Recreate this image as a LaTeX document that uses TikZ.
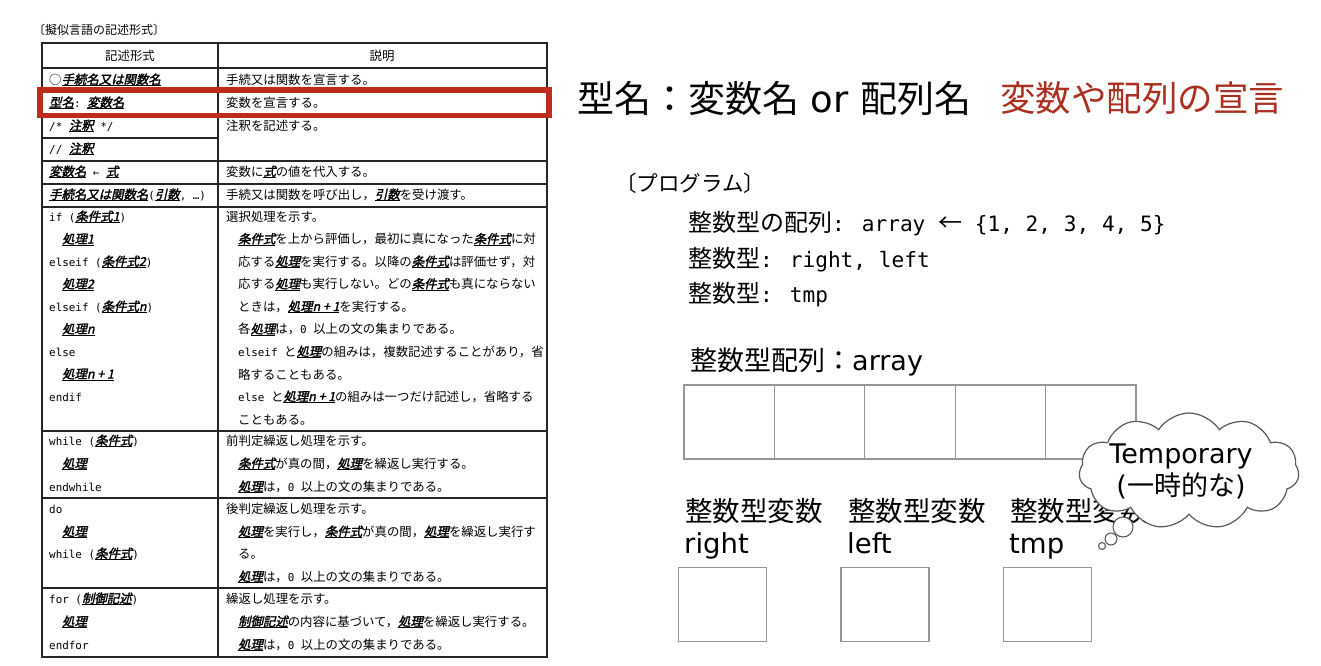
\documentclass[tikz,border=0pt]{standalone}
\usepackage{fontspec}
\setmainfont{Noto Sans CJK JP}
\newfontfamily\kfont{Noto Sans CJK JP}[FakeSlant=0.22,FakeBold=2]
\newfontfamily\mono{DejaVu Sans Mono}[Scale=0.88]
\newfontfamily\lat{DejaVu Sans}
\usetikzlibrary{shapes.symbols}

\definecolor{hlred}{RGB}{190,45,28}
\definecolor{subred}{RGB}{172,48,32}
\definecolor{boxgray}{RGB}{150,150,150}
\definecolor{cloudgray}{RGB}{90,90,90}

% keyword: slanted bold with a heavy underline
\newsavebox\kwbox
\newcommand\kw[1]{\sbox\kwbox{\kfont #1}\rlap{\raisebox{-2.4pt}{\rule{\wd\kwbox}{1.1pt}}}\usebox\kwbox}
\newcommand\cd[1]{{\mono #1}}

\begin{document}
\begin{tikzpicture}[x=1pt,y=-1pt,
  tx/.style={anchor=west,inner sep=0pt,font=\fontsize{12.4}{14}\selectfont},
  tline/.style={line width=1.2pt,black!85},
  prog/.style={anchor=west,inner sep=0pt,font=\fontsize{24}{28}\selectfont},
  big/.style={anchor=west,inner sep=0pt,font=\fontsize{27.5}{32}\selectfont},
  cell/.style={draw=boxgray,line width=1.3pt,inner sep=0pt,outer sep=0pt},
  bubble/.style={circle,draw=cloudgray,fill=white,line width=1.1pt,inner sep=0pt}]

\fill[white] (0,0) rectangle (1321,665);
\useasboundingbox (0,0) rectangle (1321,665);

% ---------- pseudo-language table ----------
\node[tx,font=\fontsize{12}{14}\selectfont] (tabtitle) at (33,30) {〔擬似言語の記述形式〕};

\draw[tline] (42,43) rectangle (547,657);
\draw[tline] (218,43) -- (218,657);
\foreach \yy in {68,92,115,161,184,207,431,498,588}
  \draw[tline] (42,\yy) -- (547,\yy);
\draw[tline] (42,138) -- (218,138);

\node[tx,anchor=center] (hL) at (130,56) {記述形式};
\node[tx,anchor=center] (hR) at (382,56) {説明};

\node[tx] (r1L) at (49,80) {○\kw{手続名又は関数名}};
\node[tx] (r1R) at (226,80) {手続又は関数を宣言する。};
\node[tx] (r2L) at (49,103) {\kw{型名}\cd{:\ }\kw{変数名}};
\node[tx] (r2R) at (226,103) {変数を宣言する。};
\node[tx] (r3L) at (49,126) {\cd{/*\ }\kw{注釈}\cd{\ */}};
\node[tx] (r3R) at (226,126) {注釈を記述する。};
\node[tx] (r4L) at (49,149) {\cd{//\ }\kw{注釈}};
\node[tx] (r5L) at (49,172) {\kw{変数名}\cd{\ ←\ }\kw{式}};
\node[tx] (r5R) at (226,172) {変数に\kw{式}の値を代入する。};
\node[tx] (r6L) at (49,195) {\kw{手続名又は関数名}\cd{(}\kw{引数}\cd{,\ …)}};
\node[tx] (r6R) at (226,195) {手続又は関数を呼び出し，\kw{引数}を受け渡す。};

% if block
\node[tx] (if0) at (49,217) {\cd{if (}\kw{条件式1}\cd{)}};
\node[tx] (if1) at (62,239.5) {\kw{処理1}};
\node[tx] (if2) at (49,262) {\cd{elseif (}\kw{条件式2}\cd{)}};
\node[tx] (if3) at (62,284.5) {\kw{処理2}};
\node[tx] (if4) at (49,307) {\cd{elseif (}\kw{条件式n}\cd{)}};
\node[tx] (if5) at (62,329.5) {\kw{処理n}};
\node[tx] (if6) at (49,352) {\cd{else}};
\node[tx] (if7) at (62,374.5) {\kw{処理n + 1}};
\node[tx] (if8) at (49,397) {\cd{endif}};

\node[tx] (ifd0) at (226,217) {選択処理を示す。};
\node[tx] (ifd1) at (238,239.5) {\kw{条件式}を上から評価し，最初に真になった\kw{条件式}に対};
\node[tx] (ifd2) at (238,262) {応する\kw{処理}を実行する。以降の\kw{条件式}は評価せず，対};
\node[tx] (ifd3) at (238,284.5) {応する\kw{処理}も実行しない。どの\kw{条件式}も真にならない};
\node[tx] (ifd4) at (238,307) {ときは，\kw{処理n + 1}を実行する。};
\node[tx] (ifd5) at (238,329.5) {各\kw{処理}は，\cd{0 }以上の文の集まりである。};
\node[tx] (ifd6) at (238,352) {\cd{elseif }と\kw{処理}の組みは，複数記述することがあり，省};
\node[tx] (ifd7) at (238,374.5) {略することもある。};
\node[tx] (ifd8) at (238,397) {\cd{else }と\kw{処理n + 1}の組みは一つだけ記述し，省略する};
\node[tx] (ifd9) at (238,419.5) {こともある。};

% while block
\node[tx] (wh0) at (49,441) {\cd{while (}\kw{条件式}\cd{)}};
\node[tx] (wh1) at (62,464) {\kw{処理}};
\node[tx] (wh2) at (49,487) {\cd{endwhile}};
\node[tx] (whd0) at (226,441) {前判定繰返し処理を示す。};
\node[tx] (whd1) at (238,464) {\kw{条件式}が真の間，\kw{処理}を繰返し実行する。};
\node[tx] (whd2) at (238,487) {\kw{処理}は，\cd{0 }以上の文の集まりである。};

% do block
\node[tx] (do0) at (49,509) {\cd{do}};
\node[tx] (do1) at (62,532) {\kw{処理}};
\node[tx] (do2) at (49,554) {\cd{while (}\kw{条件式}\cd{)}};
\node[tx] (dod0) at (226,509) {後判定繰返し処理を示す。};
\node[tx] (dod1) at (238,532) {\kw{処理}を実行し，\kw{条件式}が真の間，\kw{処理}を繰返し実行す};
\node[tx] (dod2) at (238,554) {る。};
\node[tx] (dod3) at (238,577) {\kw{処理}は，\cd{0 }以上の文の集まりである。};

% for block
\node[tx] (for0) at (49,599) {\cd{for (}\kw{制御記述}\cd{)}};
\node[tx] (for1) at (62,622) {\kw{処理}};
\node[tx] (for2) at (49,645) {\cd{endfor}};
\node[tx] (ford0) at (226,599) {繰返し処理を示す。};
\node[tx] (ford1) at (238,622) {\kw{制御記述}の内容に基づいて，\kw{処理}を繰返し実行する。};
\node[tx] (ford2) at (238,645) {\kw{処理}は，\cd{0 }以上の文の集まりである。};

% highlight of the declaration row
\draw[hlred,line width=5.5pt] (40,90) rectangle (549,115.5);

% ---------- declaration explanation ----------
\node[anchor=west,inner sep=0pt,font=\fontsize{37}{40}\selectfont] (head) at (577,98)
  {型名：変数名{\lat\ or\ }配列名};
\node[anchor=west,inner sep=0pt,text=subred,font=\fontsize{35.5}{40}\selectfont] (headsub) at (1000,98)
  {変数や配列の宣言};

\node[anchor=west,inner sep=0pt,font=\fontsize{21.5}{24}\selectfont] (progtitle) at (615,183) {〔プログラム〕};
\node[prog] (p1) at (688,224) {整数型の配列\cd{: array }←\cd{ \{1, 2, 3, 4, 5\}}};
\node[prog] (p2) at (688,260) {整数型\cd{: right, left}};
\node[prog] (p3) at (688,295) {整数型\cd{: tmp}};

% array of five cells
\node[big,font=\fontsize{27}{32}\selectfont] (arrlabel) at (690,362) {整数型配列：{\lat array}};
\foreach \i in {0,...,4}
  \node[cell,minimum width=90.4pt,minimum height=74pt] (arr\i) at ({729.2+90.4*\i},422) {};

% three scalar variables
\node[big] (vr) at (685,511) {整数型変数};
\node[big,anchor=base west,font=\fontsize{27.5}{32}\selectfont\lat] (vrn) at (684,553) {right};
\node[big] (vl) at (848,511) {整数型変数};
\node[big,anchor=base west,font=\fontsize{27.5}{32}\selectfont\lat] (vln) at (847,553) {left};
\node[big] (vt) at (1010,511) {整数型変数};
\node[big,anchor=base west,font=\fontsize{27.5}{32}\selectfont\lat] (vtn) at (1009,553) {tmp};

\node[cell,minimum width=88pt,minimum height=74pt] (vrbox) at (722.5,604.5) {};
\node[cell,minimum width=88pt,minimum height=74pt] (vlbox) at (885,604.5) {};
\node[cell,minimum width=88pt,minimum height=74pt] (vtbox) at (1047.5,604.5) {};

% thought cloud
\node[cloud,cloud puffs=11,cloud puff arc=115,aspect=1.9,draw=cloudgray,fill=white,
      line width=1.2pt,minimum width=220pt,minimum height=116pt,inner sep=0pt] (cloud) at (1189,471) {};
\node[bubble,minimum size=20pt] (b1) at (1123,527) {};
\node[bubble,minimum size=12pt] (b2) at (1111,539) {};
\node[bubble,minimum size=7pt] (b3) at (1102,546) {};
\node[align=center,inner sep=0pt,font=\fontsize{27}{32}\selectfont] (cloudtext) at (1181,471)
  {{\lat Temporary}\\{\lat (}一時的な{\lat )}};

\end{tikzpicture}
\end{document}
